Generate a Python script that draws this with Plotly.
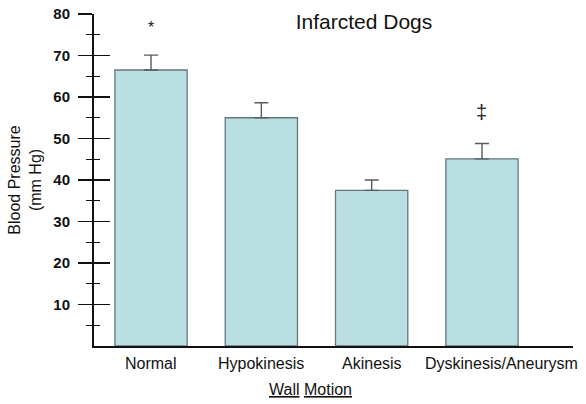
import plotly.graph_objects as go

categories = ["Normal", "Hypokinesis", "Akinesis", "Dyskinesis/Aneurysm"]
bp_mean = [66.5, 55.0, 37.5, 45.1]
bp_err = [3.6, 3.6, 2.5, 3.7]
sig_marks = ["*", "", "", "‡"]
sig_heights = [76.8, 0, 0, 56.5]
major_ticks = [10, 20, 30, 40, 50, 60, 70, 80]
minor_ticks = [5, 15, 25, 35, 45, 55, 65, 75]

FONT = "Liberation Sans, Arial, sans-serif"
EDGE = "#65777b"
ERR = "#555c5e"
LAST_LABEL_SHIFT = 20  # the long last label sits right of its bar, as in the original

fig = go.Figure()
fig.add_trace(go.Bar(
    x=categories, y=bp_mean, width=0.655,
    marker=dict(color="#badfe3", line=dict(color=EDGE, width=1.3)),
    error_y=dict(type="data", array=bp_err, arrayminus=[0]*len(bp_err),
                 symmetric=False, color=ERR, thickness=1.4, width=7),
    showlegend=False, hoverinfo="skip",
))
fig.add_trace(go.Scatter(x=categories, y=bp_mean, yaxis="y2", mode="markers",
                         marker=dict(opacity=0), showlegend=False, hoverinfo="skip"))

for c, m, h in zip(categories, sig_marks, sig_heights):
    if m:
        fig.add_annotation(x=c, y=h, text=m, showarrow=False,
                           font=dict(family=FONT, size=16 if m == "*" else 20, color="#222"))

# category labels
for i, c in enumerate(categories):
    fig.add_annotation(x=c, y=0, yref="y", yanchor="top", yshift=-7,
                       xshift=LAST_LABEL_SHIFT if i == len(categories) - 1 else 0,
                       text=c, showarrow=False,
                       font=dict(family=FONT, size=16, color="#111"))

PLOT_W = 586 - 94 - 13
PLOT_H = 346 - 14
fig.add_annotation(x=(310 - 94) / PLOT_W, xref="paper", y=-(389 - 346) / PLOT_H, yref="paper",
                   yanchor="middle", text="<u>Wall</u> <u>Motion</u>", showarrow=False,
                   font=dict(family=FONT, size=16, color="#111"))

fig.update_layout(
    width=586, height=404,
    margin=dict(l=94, r=13, t=14, b=58),
    paper_bgcolor="white", plot_bgcolor="white",
    font=dict(family=FONT, color="#111"),
    hovermode=False, dragmode=False,
    title=dict(text="Infarcted Dogs", x=364/586, xanchor="center", y=1-22/404, yanchor="middle",
               font=dict(family=FONT, size=21, color="#111")),
    xaxis=dict(range=[-0.517, 3.825], showline=True, linecolor="#111", linewidth=1.5,
               ticks="", showticklabels=False, showgrid=False, zeroline=False,
               automargin=False, fixedrange=True),
    yaxis=dict(range=[0, 80], showline=True, linecolor="#111", linewidth=2,
               tickvals=major_ticks, ticktext=[f"<b>{v}</b>" for v in major_ticks],
               ticks="outside", ticklen=14, tickwidth=1.5, tickcolor="#111",
               minor=dict(tickvals=minor_ticks, ticks="outside", ticklen=6,
                          tickwidth=1.2, tickcolor="#111"),
               ticklabelstandoff=5, automargin=False, fixedrange=True,
               tickfont=dict(family=FONT, size=15, color="#111"),
               showgrid=False, zeroline=False,
               title=dict(text="Blood Pressure<br>(mm Hg)", standoff=8,
                          font=dict(family=FONT, size=16, color="#111"))),
    yaxis2=dict(range=[0, 80], overlaying="y", side="left", anchor="x",
                tickvals=major_ticks, showticklabels=False, automargin=False,
                ticks="inside", ticklen=16, tickwidth=1.5, tickcolor="#111",
                minor=dict(tickvals=minor_ticks, ticks="inside", ticklen=6,
                           tickwidth=1.2, tickcolor="#111"),
                showgrid=False, zeroline=False, showline=False, fixedrange=True),
)

fig.write_html("out.html", config={"displayModeBar": False, "staticPlot": True},
               post_script="document.body.style.margin='0';document.body.style.padding='0';")
